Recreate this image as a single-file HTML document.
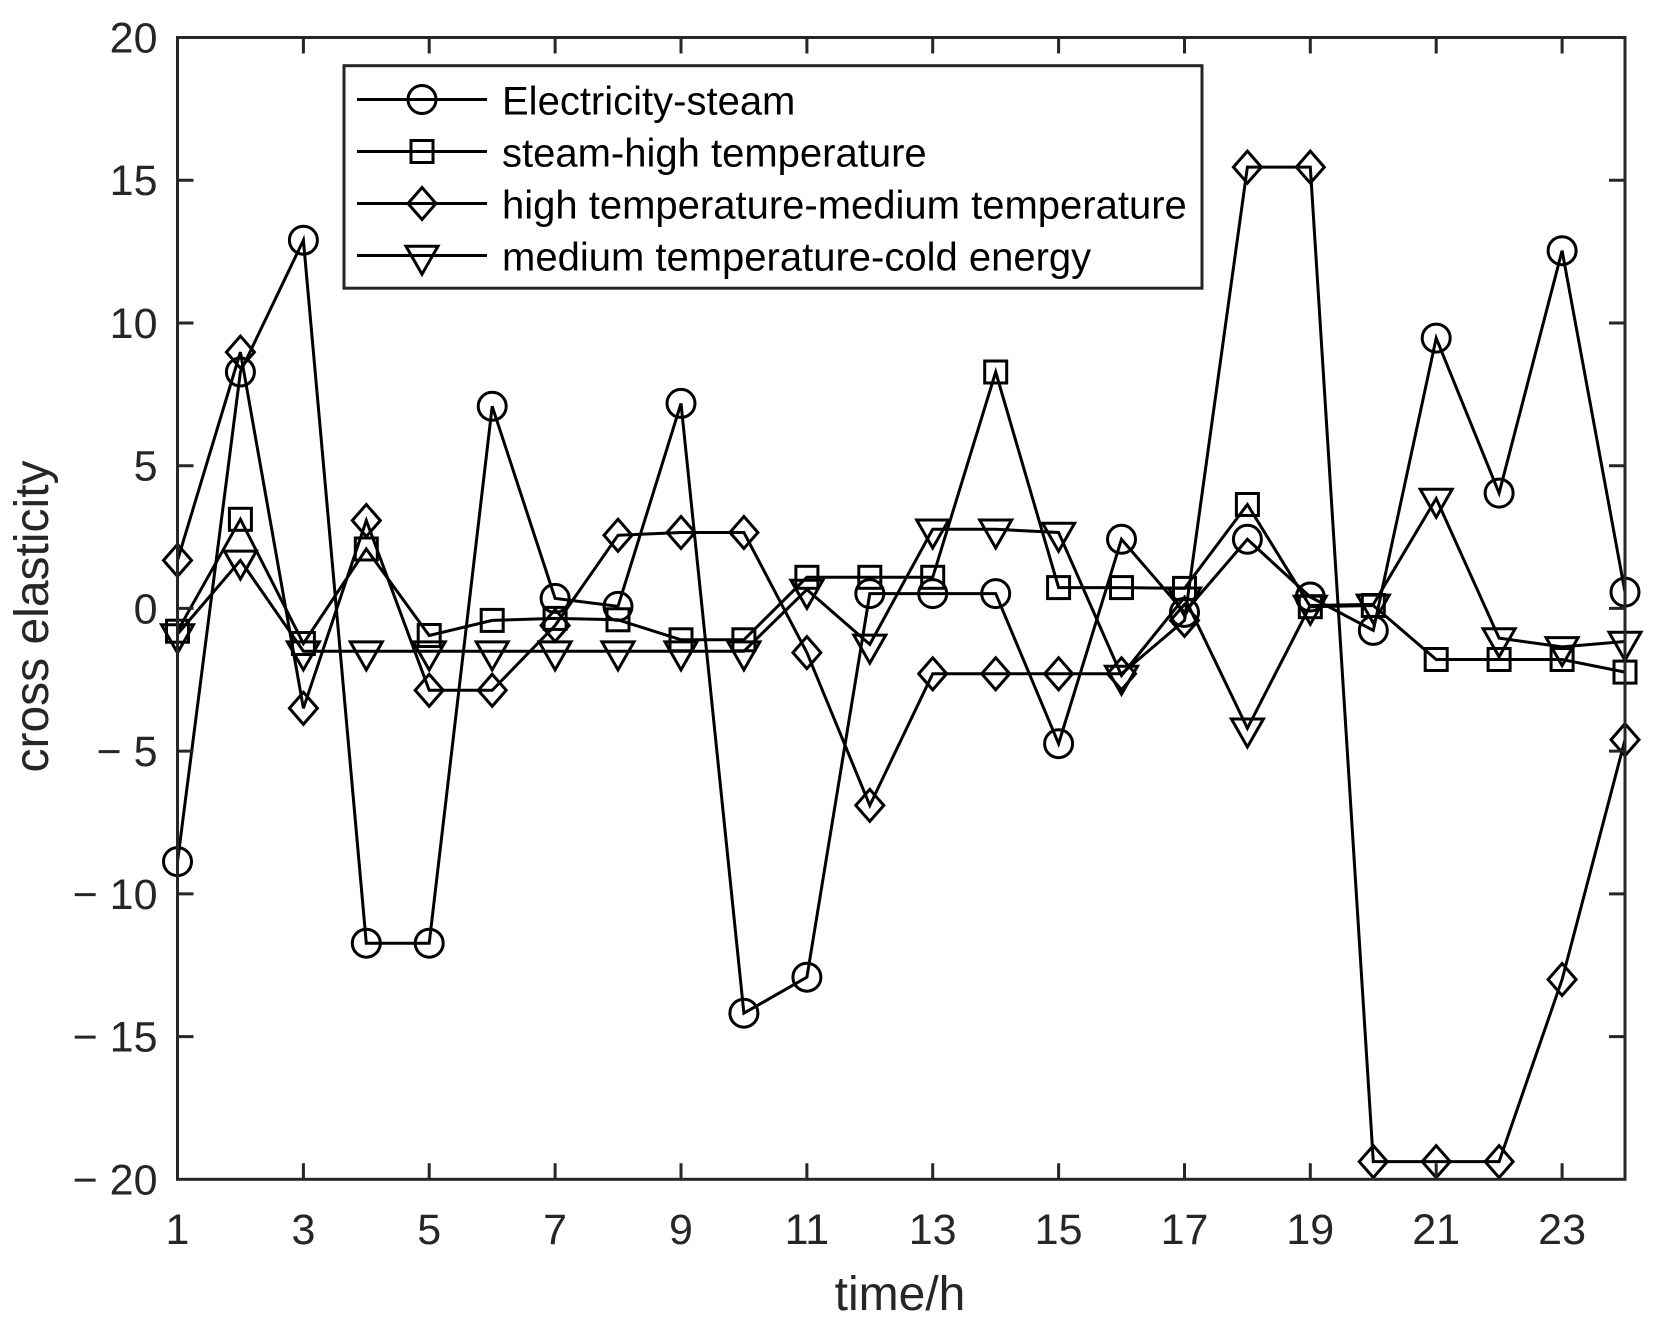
<!DOCTYPE html>
<html>
<head>
<meta charset="utf-8">
<style>
  html, body { margin: 0; padding: 0; background: #fff; }
  svg { display: block; }
  text { font-family: "Liberation Sans", Arial, sans-serif; fill: #262626; }
</style>
</head>
<body>
<svg width="1662" height="1325" viewBox="0 0 1662 1325" xmlns="http://www.w3.org/2000/svg">
  <defs>
    <g id="mc"><circle cx="0" cy="0" r="14" fill="none" stroke="#000" stroke-width="3"/></g>
    <g id="ms"><rect x="-11" y="-11" width="22" height="22" fill="none" stroke="#000" stroke-width="3"/></g>
    <g id="md"><polygon points="0,-16 14,0 0,16 -14,0" fill="none" stroke="#000" stroke-width="3"/></g>
    <g id="mt"><polygon points="-16,-9.3 16,-9.3 0,18.7" fill="none" stroke="#000" stroke-width="3" stroke-linejoin="miter"/></g>
  </defs>

  <rect x="0" y="0" width="1662" height="1325" fill="#fff"/>

  <!-- Series lines -->
  <g fill="none" stroke="#000" stroke-width="3" stroke-linejoin="miter">
    <polyline points="177.5,861.6 240.4,372.0 303.4,240.2 366.3,943.2 429.2,943.2 492.2,406.3 555.1,598.4 618.0,606.4 681.0,403.4 743.9,1013.2 806.9,977.2 869.8,593.6 932.7,593.6 995.7,593.6 1058.6,743.7 1121.5,539.3 1184.5,612.4 1247.4,539.3 1310.3,597.0 1373.3,630.4 1436.2,338.1 1499.1,493.1 1562.1,250.7 1625.0,592.1"/>
    <polyline points="177.5,631.2 240.4,519.3 303.4,643.5 366.3,549.0 429.2,635.5 492.2,620.4 555.1,618.4 618.0,619.8 681.0,639.8 743.9,639.8 806.9,577.3 869.8,577.3 932.7,577.3 995.7,372.0 1058.6,587.6 1121.5,587.6 1184.5,588.4 1247.4,504.5 1310.3,606.7 1373.3,605.5 1436.2,659.5 1499.1,659.5 1562.1,659.5 1625.0,672.1"/>
    <polyline points="177.5,560.4 240.4,352.1 303.4,708.3 366.3,520.5 429.2,690.3 492.2,690.3 555.1,625.5 618.0,535.3 681.0,532.5 743.9,532.5 806.9,652.6 869.8,805.4 932.7,673.8 995.7,673.8 1058.6,673.8 1121.5,673.8 1184.5,620.4 1247.4,167.1 1310.3,167.1 1373.3,1161.6 1436.2,1161.6 1499.1,1161.6 1562.1,979.5 1625.0,739.7"/>
    <polyline points="177.5,634.1 240.4,560.4 303.4,651.2 366.3,651.2 429.2,651.2 492.2,651.2 555.1,651.2 618.0,651.2 681.0,651.2 743.9,651.2 806.9,589.6 869.8,644.4 932.7,529.3 995.7,529.3 1058.6,532.5 1121.5,675.5 1184.5,597.3 1247.4,728.3 1310.3,605.5 1373.3,604.4 1436.2,498.5 1499.1,638.1 1562.1,646.9 1625.0,641.5"/>
  </g>

  <!-- circles -->
  <g>
    <use href="#mc" x="177.5" y="861.6"/><use href="#mc" x="240.4" y="372.0"/><use href="#mc" x="303.4" y="240.2"/>
    <use href="#mc" x="366.3" y="943.2"/><use href="#mc" x="429.2" y="943.2"/><use href="#mc" x="492.2" y="406.3"/>
    <use href="#mc" x="555.1" y="598.4"/><use href="#mc" x="618.0" y="606.4"/><use href="#mc" x="681.0" y="403.4"/>
    <use href="#mc" x="743.9" y="1013.2"/><use href="#mc" x="806.9" y="977.2"/><use href="#mc" x="869.8" y="593.6"/>
    <use href="#mc" x="932.7" y="593.6"/><use href="#mc" x="995.7" y="593.6"/><use href="#mc" x="1058.6" y="743.7"/>
    <use href="#mc" x="1121.5" y="539.3"/><use href="#mc" x="1184.5" y="612.4"/><use href="#mc" x="1247.4" y="539.3"/>
    <use href="#mc" x="1310.3" y="597.0"/><use href="#mc" x="1373.3" y="630.4"/><use href="#mc" x="1436.2" y="338.1"/>
    <use href="#mc" x="1499.1" y="493.1"/><use href="#mc" x="1562.1" y="250.7"/><use href="#mc" x="1625.0" y="592.1"/>
  </g>
  <!-- squares -->
  <g>
    <use href="#ms" x="177.5" y="631.2"/><use href="#ms" x="240.4" y="519.3"/><use href="#ms" x="303.4" y="643.5"/>
    <use href="#ms" x="366.3" y="549.0"/><use href="#ms" x="429.2" y="635.5"/><use href="#ms" x="492.2" y="620.4"/>
    <use href="#ms" x="555.1" y="618.4"/><use href="#ms" x="618.0" y="619.8"/><use href="#ms" x="681.0" y="639.8"/>
    <use href="#ms" x="743.9" y="639.8"/><use href="#ms" x="806.9" y="577.3"/><use href="#ms" x="869.8" y="577.3"/>
    <use href="#ms" x="932.7" y="577.3"/><use href="#ms" x="995.7" y="372.0"/><use href="#ms" x="1058.6" y="587.6"/>
    <use href="#ms" x="1121.5" y="587.6"/><use href="#ms" x="1184.5" y="588.4"/><use href="#ms" x="1247.4" y="504.5"/>
    <use href="#ms" x="1310.3" y="606.7"/><use href="#ms" x="1373.3" y="605.5"/><use href="#ms" x="1436.2" y="659.5"/>
    <use href="#ms" x="1499.1" y="659.5"/><use href="#ms" x="1562.1" y="659.5"/><use href="#ms" x="1625.0" y="672.1"/>
  </g>
  <!-- diamonds -->
  <g>
    <use href="#md" x="177.5" y="560.4"/><use href="#md" x="240.4" y="352.1"/><use href="#md" x="303.4" y="708.3"/>
    <use href="#md" x="366.3" y="520.5"/><use href="#md" x="429.2" y="690.3"/><use href="#md" x="492.2" y="690.3"/>
    <use href="#md" x="555.1" y="625.5"/><use href="#md" x="618.0" y="535.3"/><use href="#md" x="681.0" y="532.5"/>
    <use href="#md" x="743.9" y="532.5"/><use href="#md" x="806.9" y="652.6"/><use href="#md" x="869.8" y="805.4"/>
    <use href="#md" x="932.7" y="673.8"/><use href="#md" x="995.7" y="673.8"/><use href="#md" x="1058.6" y="673.8"/>
    <use href="#md" x="1121.5" y="673.8"/><use href="#md" x="1184.5" y="620.4"/><use href="#md" x="1247.4" y="167.1"/>
    <use href="#md" x="1310.3" y="167.1"/><use href="#md" x="1373.3" y="1161.6"/><use href="#md" x="1436.2" y="1161.6"/>
    <use href="#md" x="1499.1" y="1161.6"/><use href="#md" x="1562.1" y="979.5"/><use href="#md" x="1625.0" y="739.7"/>
  </g>
  <!-- triangles -->
  <g>
    <use href="#mt" x="177.5" y="634.1"/><use href="#mt" x="240.4" y="560.4"/><use href="#mt" x="303.4" y="651.2"/>
    <use href="#mt" x="366.3" y="651.2"/><use href="#mt" x="429.2" y="651.2"/><use href="#mt" x="492.2" y="651.2"/>
    <use href="#mt" x="555.1" y="651.2"/><use href="#mt" x="618.0" y="651.2"/><use href="#mt" x="681.0" y="651.2"/>
    <use href="#mt" x="743.9" y="651.2"/><use href="#mt" x="806.9" y="589.6"/><use href="#mt" x="869.8" y="644.4"/>
    <use href="#mt" x="932.7" y="529.3"/><use href="#mt" x="995.7" y="529.3"/><use href="#mt" x="1058.6" y="532.5"/>
    <use href="#mt" x="1121.5" y="675.5"/><use href="#mt" x="1184.5" y="597.3"/><use href="#mt" x="1247.4" y="728.3"/>
    <use href="#mt" x="1310.3" y="605.5"/><use href="#mt" x="1373.3" y="604.4"/><use href="#mt" x="1436.2" y="498.5"/>
    <use href="#mt" x="1499.1" y="638.1"/><use href="#mt" x="1562.1" y="646.9"/><use href="#mt" x="1625.0" y="641.5"/>
  </g>

  <!-- Axes box and ticks -->
  <g stroke="#262626" stroke-width="3" fill="none">
    <rect x="177.5" y="37.5" width="1447.5" height="1141.8"/>
    <path d="M177.5 180.2h16M177.5 323.0h16M177.5 465.7h16M177.5 608.4h16M177.5 751.1h16M177.5 893.9h16M177.5 1036.6h16
             M1625 180.2h-16M1625 323.0h-16M1625 465.7h-16M1625 608.4h-16M1625 751.1h-16M1625 893.9h-16M1625 1036.6h-16"/>
    <path d="M303.4 1179.3v-16M429.2 1179.3v-16M555.1 1179.3v-16M681.0 1179.3v-16M806.9 1179.3v-16M932.7 1179.3v-16M1058.6 1179.3v-16M1184.5 1179.3v-16M1310.3 1179.3v-16M1436.2 1179.3v-16M1562.1 1179.3v-16
             M303.4 37.5v16M429.2 37.5v16M555.1 37.5v16M681.0 37.5v16M806.9 37.5v16M932.7 37.5v16M1058.6 37.5v16M1184.5 37.5v16M1310.3 37.5v16M1436.2 37.5v16M1562.1 37.5v16"/>
  </g>

  <!-- Y tick labels -->
  <g font-size="43" text-anchor="end">
    <text x="157.5" y="52.5">20</text>
    <text x="157.5" y="195.2">15</text>
    <text x="157.5" y="338.0">10</text>
    <text x="157.5" y="480.7">5</text>
    <text x="157.5" y="623.4">0</text>
    <text x="157.5" y="766.1">− 5</text>
    <text x="157.5" y="908.9">− 10</text>
    <text x="157.5" y="1051.6">− 15</text>
    <text x="157.5" y="1194.3">− 20</text>
  </g>

  <!-- X tick labels -->
  <g font-size="43" text-anchor="middle">
    <text x="177.5" y="1244">1</text>
    <text x="303.4" y="1244">3</text>
    <text x="429.2" y="1244">5</text>
    <text x="555.1" y="1244">7</text>
    <text x="681.0" y="1244">9</text>
    <text x="806.9" y="1244">11</text>
    <text x="932.7" y="1244">13</text>
    <text x="1058.6" y="1244">15</text>
    <text x="1184.5" y="1244">17</text>
    <text x="1310.3" y="1244">19</text>
    <text x="1436.2" y="1244">21</text>
    <text x="1562.1" y="1244">23</text>
  </g>

  <!-- Axis labels -->
  <text x="900" y="1310" font-size="48" text-anchor="middle">time/h</text>
  <text transform="translate(48,616.5) rotate(-90)" font-size="48" text-anchor="middle">cross elasticity</text>

  <!-- Legend -->
  <rect x="344" y="65.7" width="858" height="222.5" fill="#fff" stroke="#262626" stroke-width="3"/>
  <g stroke="#000" stroke-width="3" fill="none">
    <path d="M357 99.5H487M357 151.5H487M357 203.5H487M357 255.5H487"/>
  </g>
  <use href="#mc" x="422" y="99.5"/>
  <use href="#ms" x="422" y="151.5"/>
  <use href="#md" x="422" y="203.5"/>
  <use href="#mt" x="422" y="255.5"/>
  <g font-size="40">
    <text x="502" y="114.5" style="fill:#000">Electricity-steam</text>
    <text x="502" y="166.5" style="fill:#000">steam-high temperature</text>
    <text x="502" y="218.5" style="fill:#000">high temperature-medium temperature</text>
    <text x="502" y="270.5" style="fill:#000">medium temperature-cold energy</text>
  </g>
</svg>
</body>
</html>
